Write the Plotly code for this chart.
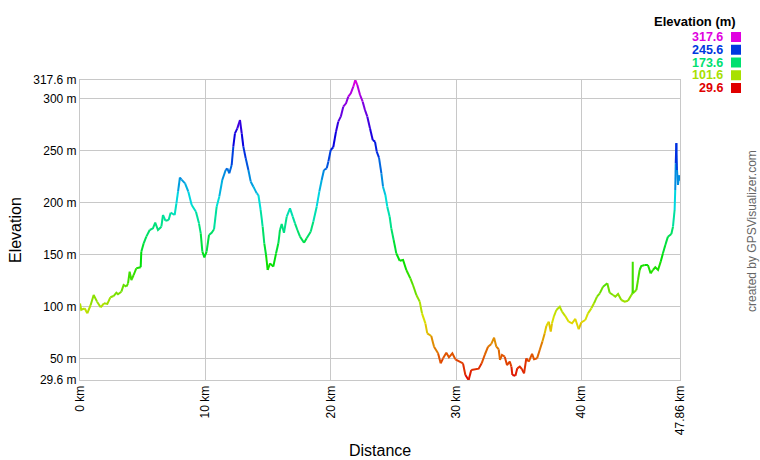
import colorsys
import plotly.graph_objects as go

# ---- data ----
dist_km = [0, 0.1, 0.37, 0.58, 0.85, 1.09, 1.36, 1.65, 1.91, 2.18, 2.42, 2.68, 2.9, 3.03, 3.3, 3.48,
           3.7, 3.83, 3.96, 4.1, 4.28, 4.49, 4.84, 4.89, 5.08, 5.29, 5.56, 5.82, 6.0, 6.22, 6.49, 6.62,
           6.81, 7.07, 7.23, 7.55, 7.69, 7.82, 7.97, 8.1, 8.38, 8.64, 8.91, 9.25, 9.49, 9.63, 9.76, 9.92,
           10.1, 10.29, 10.5, 10.69, 10.9, 11.11, 11.35, 11.62, 11.75, 11.91, 12.1, 12.23, 12.36, 12.55,
           12.76, 12.9, 13.03, 13.22, 13.43, 13.62, 13.83, 14.1, 14.23, 14.41, 14.57, 14.7, 14.84, 14.97,
           15.16, 15.42, 15.64, 15.82, 15.95, 16.09, 16.27, 16.49, 16.75, 16.97, 17.15, 17.34, 17.55,
           17.87, 18.08, 18.4, 18.61, 18.88, 19.09, 19.28, 19.46, 19.68, 19.81, 20.0, 20.2, 20.42, 20.6,
           20.8, 21.0, 21.22, 21.4, 21.6, 21.8, 21.96, 22.12, 22.34, 22.55, 22.73, 22.92, 23.13, 23.35,
           23.53, 23.67, 23.85, 24.04, 24.17, 24.36, 24.51, 24.7, 24.83, 25.02, 25.23, 25.5, 25.77, 26.03,
           26.35, 26.56, 26.83, 27.1, 27.28, 27.55, 27.7, 28.02, 28.24, 28.56, 28.77, 28.96, 29.22, 29.43,
           29.7, 29.94, 30.29, 30.55, 30.74, 31.0, 31.21, 31.53, 31.8, 32.04, 32.28, 32.55, 32.81, 33.03,
           33.21, 33.4, 33.5, 33.66, 33.88, 34.06, 34.28, 34.41, 34.49, 34.73, 34.88, 35.08, 35.26, 35.42,
           35.6, 35.8, 36.06, 36.22, 36.46, 36.67, 36.88, 37.07, 37.2, 37.39, 37.55, 37.65, 37.81, 38.0,
           38.27, 38.45, 38.71, 38.98, 39.25, 39.51, 39.78, 39.99, 40.31, 40.52, 40.79, 41.0, 41.24, 41.46,
           41.72, 42.06, 42.25, 42.52, 42.7, 42.92, 43.18, 43.45, 43.71, 43.98, 44.08, 44.09, 44.1, 44.38,
           44.51, 44.64, 44.77, 45.04, 45.3, 45.52, 45.7, 45.89, 46.11, 46.32, 46.5, 46.69, 46.9, 47.17,
           47.3, 47.43, 47.48, 47.52, 47.57, 47.62, 47.7, 47.78, 47.86]

elev_m = [103, 97, 98.4, 93.6, 101.6, 111.2, 104.8, 99.4, 103.2, 102.6, 109, 110.2, 113.4, 111.9, 114.4, 120.8,
          119.2, 122.4, 133.6, 125.6, 130.4, 136.8, 137.8, 152.8, 160.8, 167.2, 173.6, 175.2, 180.6, 173.6, 176.8, 188,
          182.5, 183.2, 190.2, 188, 199.2, 210.4, 224, 222, 218.4, 210.4, 197.6, 191.2, 180, 170.4, 152.8, 147.4,
          152.8, 168.8, 171, 174.3, 196, 205.6, 221.6, 231.2, 232.8, 228, 236, 253.6, 266.4, 271.2,
          279.2, 266.4, 253.6, 242.4, 231.2, 220, 215.2, 208.8, 207.2, 192.8, 176.8, 160.8, 149.6, 135.2,
          141.6, 138.4, 151.2, 160.8, 173.6, 179.4, 171, 186.4, 194.4, 186.4, 180, 173.6, 167.2,
          161.4, 165.6, 172, 181.6, 196, 210.4, 221.6, 231.2, 232.8, 239.2, 250.4, 253, 268, 277.6,
          282.4, 292, 295.2, 301.6, 304.8, 311.2, 317.6, 312.8, 303.2, 296.8, 288.8, 282.4, 271.2, 260,
          258.4, 248.8, 243, 228, 215.2, 207.2, 196, 186.4, 175.2, 164, 151.2, 144.1, 144.8, 135.2,
          127.2, 120.8, 111.2, 104.8, 93.6, 84, 74.4, 71.8, 61.6, 55.2, 45.6, 50.4, 55.8, 51.4,
          55.2, 49.5, 47.2, 45.6, 34.4, 29.6, 39.2, 39.9, 40.5, 45.6, 53.6, 61.6, 64.2, 70.2,
          61.6, 59.1, 48.8, 53.6, 52, 44, 47.2, 42.4, 34.4, 33.7, 40.8, 42.4, 39.9, 36,
          50.4, 47.2, 54.6, 49.5, 50.4, 58.4, 66.4, 74.4, 81.4, 85.6, 76, 84, 91, 96.8,
          100, 95.2, 91, 85.6, 84, 88.2, 78.3, 85, 87.2, 93.6, 98.4, 103.2, 109.6, 112.8,
          119.2, 122.4, 113.4, 111.2, 109.6, 112.2, 106.4, 104.8, 105.7, 111.2, 113, 143.2, 113, 116,
          125.6, 135.2, 139, 140, 140, 132, 135.2, 137.8, 135.2, 143.2, 151.2, 159.2, 167.2, 169.8,
          176.8, 192.8, 212, 237.6, 257, 231.2, 216.8, 226, 221]

y_ticks = [29.6, 50, 100, 150, 200, 250, 300, 317.6]
y_tick_text = ["29.6 m", "50 m", "100 m", "150 m", "200 m", "250 m", "300 m", "317.6 m"]
x_ticks = [0, 10, 20, 30, 40, 47.86]
x_tick_text = ["0 km", "10 km", "20 km", "30 km", "40 km", "47.86 km"]
legend_values = [317.6, 245.6, 173.6, 101.6, 29.6]

E_MIN, E_MAX = 29.6, 317.6
FONT = "Liberation Sans, Arial, sans-serif"


def elev_color(e):
    t = min(max((e - E_MIN) / (E_MAX - E_MIN), 0), 1)
    r, g, b = colorsys.hsv_to_rgb(t * 300 / 360, 1, 0.88)
    return "rgb(%d,%d,%d)" % (round(r * 255), round(g * 255), round(b * 255))


NBINS = 60
fig = go.Figure()

# group consecutive segments by colour bin
bins = {}
prev_bin = None
for i in range(len(dist_km) - 1):
    m = (elev_m[i] + elev_m[i + 1]) / 2
    b = min(int((m - E_MIN) / (E_MAX - E_MIN) * NBINS), NBINS - 1)
    xs, ys = bins.setdefault(b, ([], []))
    if b == prev_bin:
        xs.append(dist_km[i + 1]); ys.append(elev_m[i + 1])
    else:
        if xs:
            xs.append(None); ys.append(None)
        xs.extend([dist_km[i], dist_km[i + 1]]); ys.extend([elev_m[i], elev_m[i + 1]])
    prev_bin = b

for b, (xs, ys) in sorted(bins.items()):
    ec = E_MIN + (b + 0.5) / NBINS * (E_MAX - E_MIN)
    fig.add_trace(go.Scatter(x=xs, y=ys, mode="lines", line=dict(color=elev_color(ec), width=2),
                             hoverinfo="skip", showlegend=False, connectgaps=False))

L, R, T, B = 80, 680, 80, 380


def px(xp):
    return (xp - L) / (R - L)


def py(yp):
    return (B - yp) / (B - T)


annotations = []
shapes = []
annotations.append(dict(text="<b>Elevation (m)</b>", x=px(738), y=py(22), xref="paper", yref="paper",
                        xanchor="right", yanchor="middle", showarrow=False,
                        font=dict(family=FONT, size=13, color="#000")))
for k, v in enumerate(legend_values):
    yc = 37 + k * 12.75
    col = elev_color(v)
    annotations.append(dict(text="<b>%.1f</b>" % v, x=px(725), y=py(yc), xref="paper", yref="paper",
                            xanchor="right", yanchor="middle", showarrow=False,
                            font=dict(family=FONT, size=12.5, color=col)))
    shapes.append(dict(type="rect", xref="paper", yref="paper", x0=px(731), x1=px(741),
                       y0=py(yc + 5), y1=py(yc - 5), fillcolor=col, line=dict(width=0)))

annotations.append(dict(text="Elevation", x=px(15), y=py(230), xref="paper", yref="paper",
                        xanchor="center", yanchor="middle", showarrow=False, textangle=-90,
                        font=dict(family=FONT, size=16, color="#000")))
annotations.append(dict(text="Distance", x=px(380), y=py(450), xref="paper", yref="paper",
                        xanchor="center", yanchor="middle", showarrow=False,
                        font=dict(family=FONT, size=16, color="#000")))
annotations.append(dict(text="created by GPSVisualizer.com", x=px(752), y=py(231), xref="paper", yref="paper",
                        xanchor="center", yanchor="middle", showarrow=False, textangle=-90,
                        font=dict(family=FONT, size=12, color="#666")))

fig.update_layout(
    width=760, height=460,
    margin=dict(l=L, r=760 - R, t=T, b=460 - B, pad=0),
    paper_bgcolor="white", plot_bgcolor="white",
    font=dict(family=FONT, size=12, color="#000"),
    annotations=annotations, shapes=shapes,
    showlegend=False,
    xaxis=dict(range=[0, 47.86], tickmode="array", tickvals=x_ticks, ticktext=x_tick_text,
               tickangle=-90, showgrid=True, gridcolor="#c8c8c8", gridwidth=1, zeroline=False,
               showline=True, linecolor="#c8c8c8", linewidth=1, mirror=True, ticks="",
               tickfont=dict(family=FONT, size=12, color="#000")),
    yaxis=dict(range=[E_MIN, E_MAX], tickmode="array", tickvals=y_ticks, ticktext=y_tick_text,
               showgrid=True, gridcolor="#c8c8c8", gridwidth=1, zeroline=False,
               showline=True, linecolor="#c8c8c8", linewidth=1, mirror=True, ticks="",
               tickfont=dict(family=FONT, size=12, color="#000")),
)

fig.write_html("out.html", config={"displayModeBar": False},
               post_script="document.body.style.margin='0';document.body.style.overflow='hidden';")
